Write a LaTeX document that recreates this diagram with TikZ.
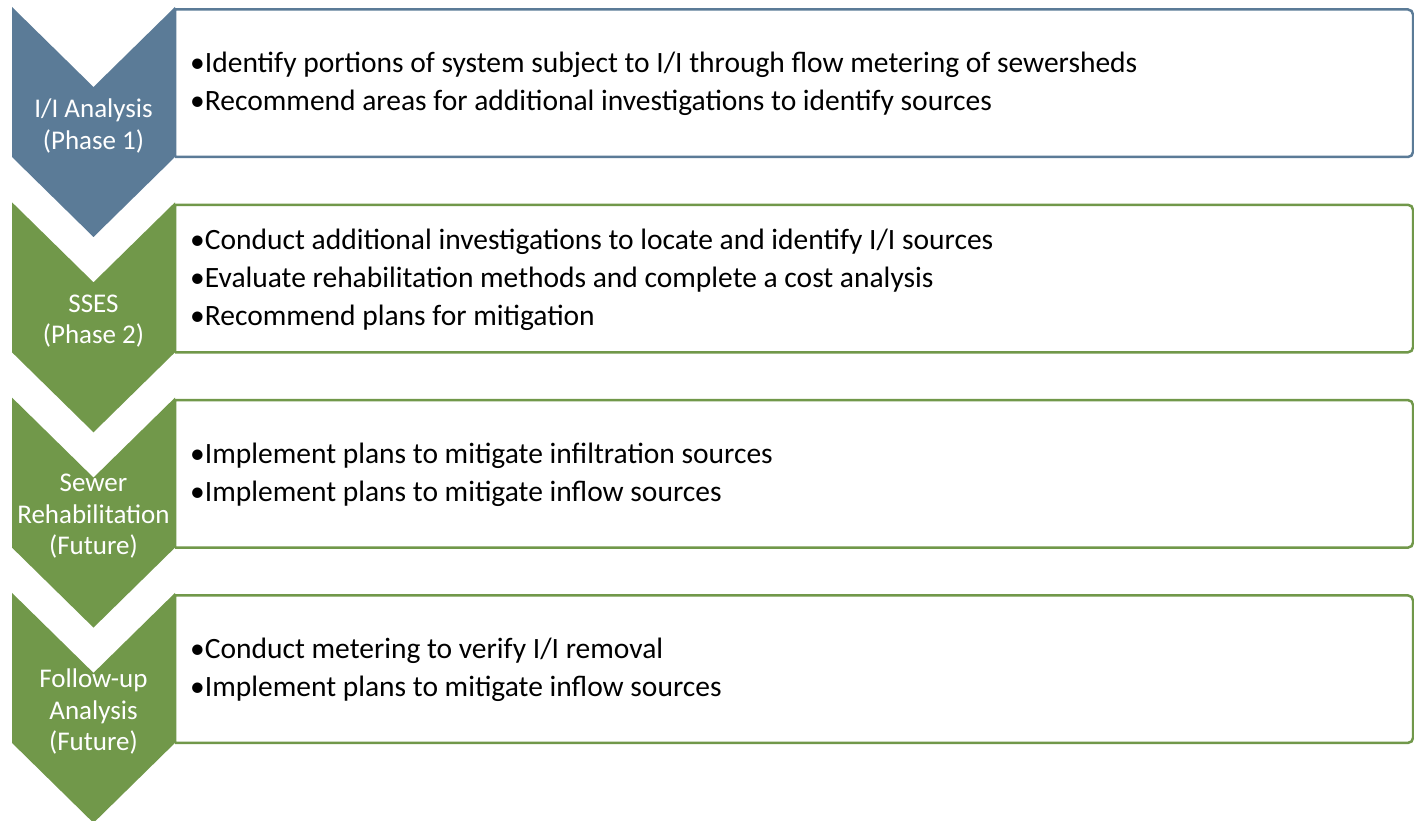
\documentclass[tikz,border=0pt]{standalone}
\usepackage{fontspec}
\setmainfont{Carlito}
\definecolor{phaseblue}{RGB}{91,123,151}
\definecolor{phasegreen}{RGB}{113,152,74}
\begin{document}
\begin{tikzpicture}[x=1pt, y=-1pt]
	\tikzstyle{chevron}   = [line join=miter]
	\tikzstyle{stepbox}   = [line width=2.5pt, fill=white]
	\tikzstyle{steptitle} = [align=center, text=white, inner sep=0pt, font=\fontsize{27}{31.5}\selectfont]
	\tikzstyle{stepitems} = [anchor=west, align=left, inner sep=0pt, font=\fontsize{29.5}{38}\selectfont]

	\useasboundingbox (0,0) rectangle (1414,821);

	\foreach \n/\col/\top/\head/\items in {
		1/phaseblue/7/{I/I Analysis\\(Phase 1)}/{•Identify portions of system subject to I/I through flow metering of sewersheds\\•Recommend areas for additional investigations to identify sources},
		2/phasegreen/202.3/{SSES\\(Phase 2)}/{•Conduct additional investigations to locate and identify I/I sources\\•Evaluate rehabilitation methods and complete a cost analysis\\•Recommend plans for mitigation},
		3/phasegreen/397.6/{Sewer\\Rehabilitation\\(Future)}/{•Implement plans to mitigate infiltration sources\\•Implement plans to mitigate inflow sources},
		4/phasegreen/592.9/{Follow-up\\Analysis\\(Future)}/{•Conduct metering to verify I/I removal\\•Implement plans to mitigate inflow sources}}
	{
		% chevron on the left
		\fill[chevron, \col] (12,\top) -- (93.5,\top+80) -- (175,\top) -- (175,\top+150)
			-- (93.5,\top+230) -- (12,\top+150) -- cycle;
		\node[steptitle] (title\n) at (93.5,\top+119) {\head};

		% box with the list
		\draw[stepbox, draw=\col] (175,\top+150) -- (175,\top+2.5)
			[rounded corners=5pt] -- (1413,\top+2.5) -- (1413,\top+150) -- (175,\top+150);
		\node[stepitems] (items\n) at (190,\top+77) {\items};
	}
\end{tikzpicture}
\end{document}
